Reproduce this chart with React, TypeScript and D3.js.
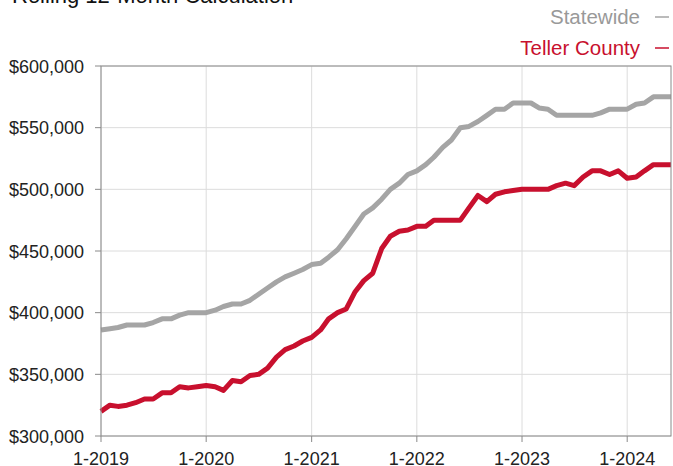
import React from 'react';
import * as d3 from 'd3';

// monthly values, 1-2019 through 6-2024 (rolling 12-month median price)
const statewide = [
  386, 387, 388, 390, 390, 390, 392, 395, 395, 398, 400, 400,
  400, 402, 405, 407, 407, 410, 415, 420, 425, 429, 432, 435,
  439, 440, 445, 451, 460, 470, 480, 485, 492, 500, 505, 512,
  515, 520, 526, 534, 540, 550, 551, 555, 560, 565, 565, 570,
  570, 570, 566, 565, 560, 560, 560, 560, 560, 562, 565, 565,
  565, 569, 570, 575, 575, 575,
];
const teller = [
  320, 325, 324, 325, 327, 330, 330, 335, 335, 340, 339, 340,
  341, 340, 337, 345, 344, 349, 350, 355, 364, 370, 373, 377,
  380, 386, 395, 400, 403, 417, 426, 432, 452, 462, 466, 467,
  470, 470, 475, 475, 475, 475, 485, 495, 490, 496, 498, 499,
  500, 500, 500, 500, 503, 505, 503, 510, 515, 515, 512, 515,
  509, 510, 515, 520, 520, 520,
];
const yTicks = [300, 350, 400, 450, 500, 550, 600];
const xTickYears = [2019, 2020, 2021, 2022, 2023, 2024];
const seriesNames = ['Statewide', 'Teller County'];
const seriesColors = ['#a5a5a5', '#c8102e'];

const W = 673;
const H = 466;
const m = { left: 101, right: 2, top: 66, bottom: 30 };
const font = 'Helvetica, Arial, "Liberation Sans", sans-serif';

export default function App() {
  const start = new Date(2019, 0, 1);
  const dates = statewide.map((_, i) => d3.timeMonth.offset(start, i));

  const x = d3.scaleTime()
    .domain([start, dates[dates.length - 1]])
    .range([m.left, W - m.right]);
  const y = d3.scaleLinear()
    .domain([300, 600])
    .range([H - m.bottom, m.top]);

  const line = d3.line<number>()
    .x((_, i) => x(dates[i]))
    .y(d => y(d));

  const fmt = d3.format('$,');

  return (
    <svg width={W} height={H} style={{ position: 'absolute', left: 0, top: 0, fontFamily: font }}>
      <rect width={W} height={H} fill="#fff" />
      <text x={12} y={3} fontSize={22} fill="#111">Rolling 12-Month Calculation</text>

      {/* legend */}
      {seriesNames.map((name, i) => (
        <g key={name}>
          <text x={640} y={24 + i * 31} fontSize={20.5} textAnchor="end" fill={i === 0 ? '#999' : seriesColors[1]}>{name}</text>
          <line x1={655} x2={669} y1={17 + i * 31} y2={17 + i * 31} stroke={seriesColors[i]} strokeWidth={1.5} />
        </g>
      ))}

      {/* grid */}
      {yTicks.map(t => (
        <line key={'gy' + t} x1={m.left} x2={W - m.right} y1={y(t)} y2={y(t)} stroke="#dcdcdc" strokeWidth={1} />
      ))}
      {xTickYears.map(yr => (
        <line key={'gx' + yr} x1={x(new Date(yr, 0, 1))} x2={x(new Date(yr, 0, 1))} y1={m.top} y2={H - m.bottom} stroke="#dcdcdc" strokeWidth={1} />
      ))}

      {/* lines */}
      {[statewide, teller].map((s, i) => (
        <path key={i} d={line(s) || ''} fill="none" stroke={seriesColors[i]} strokeWidth={5} strokeLinejoin="round" />
      ))}

      {/* frame */}
      <rect x={m.left} y={m.top} width={W - m.right - m.left} height={H - m.bottom - m.top} fill="none" stroke="#8a8a8a" strokeWidth={1} />

      {/* y axis */}
      {yTicks.map(t => (
        <g key={'ty' + t}>
          <line x1={m.left - 6} x2={m.left} y1={y(t)} y2={y(t)} stroke="#8a8a8a" />
          <text x={m.left - 17} y={y(t) + 6.5} fontSize={18} textAnchor="end" fill="#222">{fmt(t * 1000)}</text>
        </g>
      ))}

      {/* x axis */}
      {xTickYears.map(yr => {
        const px = x(new Date(yr, 0, 1));
        return (
          <g key={'tx' + yr}>
            <line x1={px} x2={px} y1={H - m.bottom} y2={H - m.bottom + 6} stroke="#8a8a8a" />
            <text x={px} y={H - 1} fontSize={18} textAnchor="middle" fill="#222">{`1-${yr}`}</text>
          </g>
        );
      })}
    </svg>
  );
}
